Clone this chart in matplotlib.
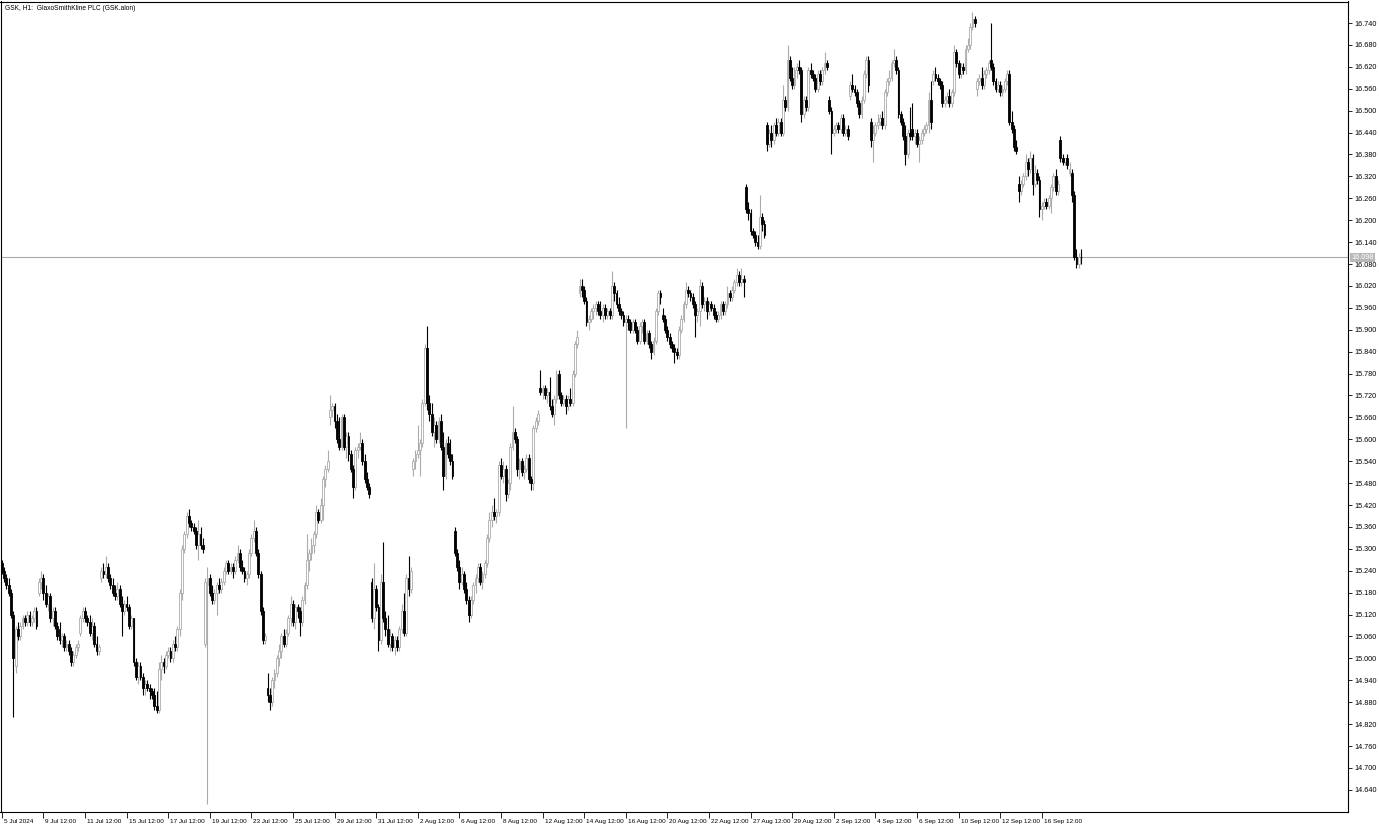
import numpy as np
import matplotlib
matplotlib.use("Agg")
import matplotlib.pyplot as plt
import matplotlib.transforms as mtransforms

# GSK H1 candles, 5 Jul - 18 Sep 2024, one row per trading day

title = "GSK, H1:  GlaxoSmithKline PLC (GSK.alon)"
last_price = 16.098

opens = [
    15.26, 15.24, 15.22, 15.20, 15.18, 15.12, 14.98,
    15.08, 15.06, 15.09, 15.11, 15.10, 15.12, 15.10, 15.11, 15.13,
    15.18, 15.21, 15.22, 15.18, 15.15, 15.17, 15.11, 15.13, 15.09,
    15.08, 15.05, 15.06, 15.03, 15.04, 15.02, 14.99, 15.01, 15.03,
    15.07, 15.11, 15.13, 15.11, 15.10, 15.07, 15.09, 15.04, 15.02,
    15.22, 15.24, 15.23, 15.25, 15.22, 15.20, 15.18, 15.17, 15.19,
    15.15, 15.13, 15.15, 15.14, 15.09, 15.11, 14.99, 14.95, 14.98,
    14.95, 14.92, 14.93, 14.92, 14.91, 14.90, 14.87, 14.86, 14.97,
    14.99, 14.98, 15.01, 15.02, 15.00, 15.04, 15.03, 15.08, 15.18,
    15.30, 15.34, 15.39, 15.37, 15.36, 15.35, 15.31, 15.34, 15.31,
    15.04, 15.20, 15.22, 15.18, 15.16, 15.18, 15.20, 15.19, 15.21,
    15.24, 15.26, 15.24, 15.25, 15.24, 15.27, 15.29, 15.25, 15.24,
    15.22, 15.23, 15.29, 15.33, 15.35, 15.29, 15.23, 15.13, 15.05,
    14.92, 14.90, 14.88, 14.94, 14.96, 15.00, 15.02, 15.06, 15.04,
    15.07, 15.11, 15.15, 15.10, 15.14, 15.13, 15.10, 15.16, 15.20,
    15.27, 15.29, 15.31, 15.34, 15.40, 15.38, 15.42, 15.49, 15.52,
    15.66, 15.68, 15.69, 15.65, 15.60, 15.58, 15.66, 15.58, 15.61,
    15.56, 15.52, 15.47, 15.57, 15.58, 15.59, 15.54, 15.49, 15.47,
    15.21, 15.11, 15.19, 15.14, 15.05, 15.21, 15.11, 15.08, 15.04,
    15.06, 15.03, 15.05, 15.03, 15.08, 15.13, 15.07, 15.22, 15.19,
    15.52, 15.54, 15.56, 15.57, 15.59, 15.70, 15.85, 15.70, 15.67,
    15.62, 15.64, 15.60, 15.65, 15.58, 15.50, 15.59, 15.56, 15.54,
    15.35, 15.29, 15.25, 15.21, 15.23, 15.19, 15.16, 15.12, 15.16,
    15.20, 15.22, 15.25, 15.21, 15.23, 15.26, 15.33, 15.38, 15.40,
    15.39, 15.40, 15.53, 15.50, 15.52, 15.45, 15.48, 15.58, 15.62,
    15.60, 15.52, 15.54, 15.51, 15.52, 15.55, 15.49, 15.48, 15.63,
    15.65, 15.74, 15.73, 15.74, 15.72, 15.73, 15.69, 15.67, 15.71,
    15.78, 15.72, 15.70, 15.71, 15.69, 15.71, 15.70, 15.78, 15.86,
    16.00, 16.02, 16.01, 15.98, 15.92, 15.93, 15.95, 15.96, 15.97,
    15.95, 15.94, 15.96, 15.94, 15.95, 15.94, 16.02, 16.00, 15.97,
    15.95, 15.94, 15.92, 15.93, 15.92, 15.90, 15.92, 15.90, 15.87,
    15.91, 15.92, 15.87, 15.89, 15.86, 15.84, 15.87, 15.95, 16.00,
    15.94, 15.93, 15.90, 15.88, 15.86, 15.85, 15.84, 15.83, 15.90,
    15.93, 15.97, 16.01, 16.00, 15.99, 15.97, 15.94, 15.95, 16.02,
    15.97, 15.98, 15.95, 15.97, 15.96, 15.94, 15.93, 15.94, 15.97,
    15.95, 15.97, 16.00, 15.99, 16.01, 16.03, 16.05, 16.03, 16.04,
    16.29, 16.23, 16.22, 16.17, 16.16, 16.14, 16.13, 16.21, 16.19,
    16.46, 16.41, 16.44, 16.42, 16.46, 16.44, 16.47, 16.44, 16.53,
    16.51, 16.64, 16.59, 16.57, 16.61, 16.62, 16.61, 16.49, 16.53,
    16.51, 16.61, 16.60, 16.59, 16.56, 16.60, 16.58, 16.61, 16.63,
    16.53, 16.50, 16.44, 16.45, 16.46, 16.45, 16.48, 16.44, 16.45,
    16.54, 16.57, 16.56, 16.55, 16.52, 16.49, 16.53, 16.60, 16.64,
    16.47, 16.42, 16.44, 16.46, 16.47, 16.48, 16.46, 16.55, 16.58,
    16.59, 16.63, 16.64, 16.61, 16.49, 16.47, 16.43, 16.38, 16.44,
    16.45, 16.43, 16.44, 16.41, 16.42, 16.44, 16.45, 16.46, 16.53,
    16.58, 16.60, 16.59, 16.58, 16.57, 16.52, 16.53, 16.54, 16.52,
    16.55, 16.66, 16.63, 16.60, 16.62, 16.61, 16.67, 16.68, 16.73,
    16.75, 16.56, 16.58, 16.59, 16.57, 16.60, 16.61, 16.64, 16.62,
    16.58, 16.56, 16.57, 16.55, 16.56, 16.58, 16.60, 16.47, 16.45,
    16.40, 16.30, 16.28, 16.30, 16.32, 16.36, 16.34, 16.37, 16.30,
    16.33, 16.31, 16.23, 16.24, 16.25, 16.24, 16.26, 16.29, 16.32,
    16.28, 16.42, 16.37, 16.36, 16.37, 16.33, 16.33, 16.27, 16.10,
    16.08, 16.10,
]

highs = [
    15.27, 15.25, 15.23, 15.22, 15.19, 15.13, 15.09,
    15.10, 15.10, 15.12, 15.12, 15.13, 15.13, 15.12, 15.14, 15.14,
    15.22, 15.24, 15.23, 15.20, 15.18, 15.18, 15.14, 15.14, 15.10,
    15.10, 15.07, 15.07, 15.05, 15.05, 15.03, 15.02, 15.04, 15.05,
    15.12, 15.14, 15.14, 15.12, 15.12, 15.11, 15.10, 15.06, 15.04,
    15.25, 15.26, 15.28, 15.26, 15.23, 15.22, 15.20, 15.21, 15.20,
    15.17, 15.16, 15.17, 15.15, 15.12, 15.11, 15.00, 14.99, 14.99,
    14.96, 14.94, 14.94, 14.93, 14.92, 14.92, 14.91, 14.99, 15.01,
    15.00, 15.02, 15.03, 15.03, 15.05, 15.06, 15.09, 15.19, 15.31,
    15.35, 15.40, 15.41, 15.38, 15.37, 15.36, 15.38, 15.36, 15.33,
    15.22, 15.25, 15.23, 15.20, 15.19, 15.21, 15.22, 15.22, 15.25,
    15.27, 15.27, 15.26, 15.26, 15.28, 15.31, 15.30, 15.27, 15.25,
    15.24, 15.30, 15.34, 15.38, 15.36, 15.30, 15.24, 15.14, 15.07,
    14.96, 14.92, 14.95, 14.97, 15.01, 15.04, 15.07, 15.08, 15.08,
    15.12, 15.17, 15.16, 15.15, 15.15, 15.14, 15.17, 15.21, 15.34,
    15.30, 15.33, 15.35, 15.42, 15.41, 15.44, 15.50, 15.53, 15.57,
    15.72, 15.70, 15.70, 15.67, 15.66, 15.67, 15.67, 15.62, 15.62,
    15.57, 15.53, 15.58, 15.59, 15.62, 15.60, 15.56, 15.51, 15.48,
    15.22, 15.26, 15.20, 15.15, 15.23, 15.32, 15.13, 15.12, 15.08,
    15.07, 15.06, 15.06, 15.09, 15.15, 15.18, 15.23, 15.28, 15.25,
    15.55, 15.57, 15.64, 15.60, 15.71, 15.86, 15.91, 15.72, 15.70,
    15.66, 15.65, 15.66, 15.67, 15.62, 15.60, 15.61, 15.60, 15.56,
    15.36, 15.30, 15.27, 15.25, 15.24, 15.21, 15.17, 15.17, 15.21,
    15.23, 15.26, 15.26, 15.24, 15.27, 15.34, 15.40, 15.42, 15.44,
    15.41, 15.54, 15.55, 15.54, 15.53, 15.49, 15.59, 15.69, 15.63,
    15.61, 15.55, 15.55, 15.53, 15.56, 15.56, 15.50, 15.64, 15.66,
    15.68, 15.79, 15.75, 15.75, 15.74, 15.77, 15.71, 15.72, 15.79,
    15.79, 15.73, 15.72, 15.72, 15.72, 15.74, 15.79, 15.87, 15.90,
    16.04, 16.04, 16.02, 15.99, 15.94, 15.96, 15.97, 15.98, 15.98,
    15.98, 15.97, 15.97, 15.96, 15.96, 16.06, 16.03, 16.01, 15.99,
    15.96, 15.95, 15.94, 15.94, 15.93, 15.93, 15.93, 15.91, 15.92,
    15.93, 15.93, 15.90, 15.90, 15.87, 15.88, 15.96, 16.01, 16.01,
    15.96, 15.94, 15.91, 15.89, 15.87, 15.86, 15.85, 15.91, 15.94,
    15.98, 16.03, 16.02, 16.01, 16.00, 15.98, 15.96, 16.04, 16.03,
    15.99, 15.99, 15.98, 15.98, 15.97, 15.95, 15.95, 15.98, 15.98,
    15.98, 16.02, 16.01, 16.02, 16.04, 16.07, 16.06, 16.07, 16.05,
    16.30, 16.25, 16.23, 16.18, 16.17, 16.16, 16.27, 16.22, 16.20,
    16.47, 16.45, 16.46, 16.47, 16.48, 16.48, 16.48, 16.57, 16.54,
    16.68, 16.65, 16.62, 16.62, 16.63, 16.64, 16.62, 16.54, 16.54,
    16.62, 16.63, 16.61, 16.60, 16.61, 16.61, 16.62, 16.66, 16.64,
    16.54, 16.51, 16.46, 16.47, 16.47, 16.49, 16.49, 16.46, 16.46,
    16.58, 16.60, 16.57, 16.56, 16.53, 16.54, 16.61, 16.65, 16.65,
    16.48, 16.46, 16.47, 16.49, 16.49, 16.50, 16.56, 16.59, 16.61,
    16.64, 16.67, 16.65, 16.62, 16.50, 16.48, 16.46, 16.45, 16.51,
    16.52, 16.45, 16.45, 16.43, 16.45, 16.46, 16.47, 16.55, 16.58,
    16.61, 16.62, 16.60, 16.59, 16.58, 16.54, 16.55, 16.56, 16.56,
    16.68, 16.67, 16.64, 16.63, 16.63, 16.68, 16.70, 16.74, 16.77,
    16.76, 16.59, 16.60, 16.62, 16.61, 16.62, 16.64, 16.74, 16.63,
    16.59, 16.58, 16.58, 16.57, 16.59, 16.61, 16.61, 16.50, 16.46,
    16.42, 16.32, 16.31, 16.33, 16.38, 16.37, 16.39, 16.38, 16.35,
    16.34, 16.32, 16.25, 16.26, 16.26, 16.27, 16.30, 16.33, 16.34,
    16.31, 16.43, 16.38, 16.37, 16.38, 16.36, 16.34, 16.28, 16.12,
    16.11, 16.12,
]

lows = [
    15.23, 15.21, 15.19, 15.17, 15.11, 14.84, 14.96,
    15.05, 15.05, 15.08, 15.09, 15.09, 15.09, 15.09, 15.10, 15.08,
    15.17, 15.19, 15.16, 15.14, 15.13, 15.10, 15.09, 15.08, 15.05,
    15.04, 15.03, 15.02, 15.02, 15.01, 14.98, 14.98, 15.00, 15.02,
    15.06, 15.10, 15.10, 15.09, 15.06, 15.05, 15.03, 15.01, 15.01,
    15.21, 15.22, 15.22, 15.21, 15.19, 15.17, 15.16, 15.16, 15.14,
    15.06, 15.12, 15.13, 15.08, 15.08, 14.98, 14.94, 14.93, 14.94,
    14.90, 14.90, 14.91, 14.89, 14.89, 14.86, 14.85, 14.85, 14.94,
    14.96, 14.97, 15.00, 14.99, 14.99, 15.02, 15.02, 15.06, 15.16,
    15.29, 15.33, 15.36, 15.35, 15.34, 15.30, 15.27, 15.30, 15.29,
    15.03, 14.60, 15.17, 15.15, 15.15, 15.12, 15.18, 15.18, 15.20,
    15.23, 15.23, 15.23, 15.22, 15.23, 15.26, 15.24, 15.23, 15.21,
    15.20, 15.22, 15.28, 15.32, 15.28, 15.22, 15.12, 15.04, 15.04,
    14.88, 14.86, 14.87, 14.92, 14.95, 14.98, 15.00, 15.03, 15.03,
    15.06, 15.09, 15.09, 15.08, 15.11, 15.06, 15.09, 15.15, 15.19,
    15.24, 15.27, 15.29, 15.33, 15.37, 15.37, 15.38, 15.47, 15.51,
    15.64, 15.66, 15.63, 15.59, 15.57, 15.57, 15.57, 15.55, 15.54,
    15.51, 15.44, 15.46, 15.55, 15.57, 15.53, 15.48, 15.46, 15.44,
    15.10, 15.08, 15.13, 15.02, 15.04, 15.10, 15.06, 15.03, 15.02,
    15.02, 15.01, 15.02, 15.02, 15.07, 15.06, 15.06, 15.17, 15.18,
    15.50, 15.52, 15.55, 15.50, 15.58, 15.69, 15.68, 15.65, 15.61,
    15.58, 15.59, 15.59, 15.57, 15.46, 15.49, 15.55, 15.53, 15.49,
    15.28, 15.24, 15.19, 15.20, 15.18, 15.15, 15.10, 15.11, 15.15,
    15.18, 15.21, 15.20, 15.19, 15.22, 15.25, 15.32, 15.36, 15.38,
    15.37, 15.39, 15.49, 15.48, 15.43, 15.44, 15.46, 15.57, 15.59,
    15.50, 15.49, 15.50, 15.49, 15.51, 15.48, 15.46, 15.46, 15.62,
    15.64, 15.72, 15.71, 15.71, 15.70, 15.68, 15.66, 15.64, 15.70,
    15.71, 15.69, 15.69, 15.67, 15.68, 15.69, 15.69, 15.77, 15.85,
    15.99, 15.99, 15.97, 15.91, 15.90, 15.92, 15.93, 15.94, 15.94,
    15.93, 15.92, 15.93, 15.93, 15.93, 15.93, 15.98, 15.96, 15.94,
    15.93, 15.91, 15.63, 15.90, 15.89, 15.89, 15.89, 15.86, 15.86,
    15.89, 15.86, 15.86, 15.85, 15.82, 15.83, 15.86, 15.94, 15.97,
    15.92, 15.89, 15.87, 15.85, 15.84, 15.81, 15.82, 15.82, 15.89,
    15.92, 15.96, 15.99, 15.98, 15.96, 15.88, 15.92, 15.91, 15.96,
    15.95, 15.93, 15.94, 15.95, 15.93, 15.92, 15.92, 15.93, 15.94,
    15.94, 15.96, 15.98, 15.98, 16.00, 16.02, 16.02, 16.02, 15.99,
    16.22, 16.20, 16.16, 16.15, 16.13, 16.12, 16.12, 16.17, 16.15,
    16.39, 16.40, 16.40, 16.41, 16.43, 16.43, 16.43, 16.43, 16.50,
    16.50, 16.58, 16.56, 16.56, 16.59, 16.60, 16.47, 16.48, 16.50,
    16.50, 16.59, 16.58, 16.55, 16.55, 16.57, 16.57, 16.60, 16.61,
    16.49, 16.38, 16.43, 16.44, 16.44, 16.44, 16.43, 16.43, 16.42,
    16.53, 16.55, 16.54, 16.51, 16.48, 16.48, 16.52, 16.59, 16.55,
    16.40, 16.36, 16.43, 16.45, 16.46, 16.45, 16.45, 16.54, 16.57,
    16.58, 16.62, 16.60, 16.48, 16.46, 16.42, 16.35, 16.37, 16.42,
    16.42, 16.41, 16.40, 16.36, 16.41, 16.43, 16.44, 16.44, 16.45,
    16.57, 16.58, 16.57, 16.56, 16.51, 16.51, 16.52, 16.51, 16.51,
    16.54, 16.62, 16.59, 16.59, 16.60, 16.60, 16.66, 16.67, 16.72,
    16.73, 16.54, 16.57, 16.56, 16.56, 16.59, 16.60, 16.61, 16.57,
    16.55, 16.55, 16.54, 16.54, 16.55, 16.57, 16.46, 16.44, 16.39,
    16.38, 16.25, 16.27, 16.29, 16.31, 16.32, 16.33, 16.27, 16.29,
    16.30, 16.21, 16.20, 16.23, 16.23, 16.23, 16.22, 16.28, 16.27,
    16.27, 16.36, 16.35, 16.35, 16.34, 16.32, 16.25, 16.09, 16.07,
    16.07, 16.08,
]

closes = [
    15.24, 15.22, 15.20, 15.18, 15.12, 15.00, 15.08,
    15.06, 15.09, 15.11, 15.10, 15.12, 15.10, 15.11, 15.13, 15.09,
    15.21, 15.22, 15.18, 15.15, 15.17, 15.11, 15.13, 15.09, 15.06,
    15.05, 15.06, 15.03, 15.04, 15.02, 14.99, 15.01, 15.03, 15.04,
    15.11, 15.13, 15.11, 15.10, 15.07, 15.09, 15.04, 15.02, 15.03,
    15.24, 15.23, 15.25, 15.22, 15.20, 15.18, 15.17, 15.19, 15.15,
    15.13, 15.15, 15.14, 15.09, 15.11, 14.99, 14.95, 14.98, 14.95,
    14.92, 14.93, 14.92, 14.91, 14.90, 14.87, 14.86, 14.97, 14.99,
    14.98, 15.01, 15.02, 15.00, 15.04, 15.03, 15.08, 15.18, 15.30,
    15.34, 15.39, 15.37, 15.36, 15.35, 15.31, 15.34, 15.31, 15.30,
    15.21, 15.22, 15.18, 15.16, 15.18, 15.20, 15.19, 15.21, 15.24,
    15.26, 15.24, 15.25, 15.24, 15.27, 15.29, 15.25, 15.24, 15.22,
    15.23, 15.29, 15.33, 15.35, 15.29, 15.23, 15.13, 15.05, 15.06,
    14.90, 14.88, 14.94, 14.96, 15.00, 15.02, 15.06, 15.04, 15.07,
    15.11, 15.15, 15.10, 15.14, 15.13, 15.10, 15.16, 15.20, 15.27,
    15.29, 15.31, 15.34, 15.40, 15.38, 15.42, 15.49, 15.52, 15.54,
    15.68, 15.69, 15.65, 15.60, 15.58, 15.66, 15.58, 15.61, 15.56,
    15.52, 15.47, 15.57, 15.58, 15.59, 15.54, 15.49, 15.47, 15.45,
    15.11, 15.19, 15.14, 15.05, 15.21, 15.11, 15.08, 15.04, 15.06,
    15.03, 15.05, 15.03, 15.08, 15.13, 15.07, 15.22, 15.19, 15.24,
    15.54, 15.56, 15.57, 15.59, 15.70, 15.85, 15.70, 15.67, 15.62,
    15.64, 15.60, 15.65, 15.58, 15.50, 15.59, 15.56, 15.54, 15.50,
    15.29, 15.25, 15.21, 15.23, 15.19, 15.16, 15.12, 15.16, 15.20,
    15.22, 15.25, 15.21, 15.23, 15.26, 15.33, 15.38, 15.40, 15.39,
    15.40, 15.53, 15.50, 15.52, 15.45, 15.48, 15.58, 15.62, 15.60,
    15.52, 15.54, 15.51, 15.52, 15.55, 15.49, 15.48, 15.63, 15.65,
    15.67, 15.73, 15.74, 15.72, 15.73, 15.69, 15.67, 15.71, 15.78,
    15.72, 15.70, 15.71, 15.69, 15.71, 15.70, 15.78, 15.86, 15.88,
    16.02, 16.01, 15.98, 15.92, 15.93, 15.95, 15.96, 15.97, 15.95,
    15.94, 15.96, 15.94, 15.95, 15.94, 16.02, 16.00, 15.97, 15.95,
    15.94, 15.92, 15.93, 15.92, 15.90, 15.92, 15.90, 15.87, 15.91,
    15.92, 15.87, 15.89, 15.86, 15.84, 15.87, 15.95, 16.00, 15.99,
    15.93, 15.90, 15.88, 15.86, 15.85, 15.84, 15.83, 15.90, 15.93,
    15.97, 16.01, 16.00, 15.99, 15.97, 15.94, 15.95, 16.02, 15.97,
    15.98, 15.95, 15.97, 15.96, 15.94, 15.93, 15.94, 15.97, 15.95,
    15.97, 16.00, 15.99, 16.01, 16.03, 16.05, 16.03, 16.04, 16.03,
    16.23, 16.22, 16.17, 16.16, 16.14, 16.13, 16.21, 16.19, 16.16,
    16.41, 16.44, 16.42, 16.46, 16.44, 16.47, 16.44, 16.53, 16.51,
    16.64, 16.59, 16.57, 16.61, 16.62, 16.61, 16.49, 16.53, 16.51,
    16.61, 16.60, 16.59, 16.56, 16.60, 16.58, 16.61, 16.63, 16.62,
    16.50, 16.44, 16.45, 16.46, 16.45, 16.48, 16.44, 16.45, 16.43,
    16.57, 16.56, 16.55, 16.52, 16.49, 16.53, 16.60, 16.64, 16.57,
    16.42, 16.44, 16.46, 16.47, 16.48, 16.46, 16.55, 16.58, 16.59,
    16.63, 16.64, 16.61, 16.49, 16.47, 16.43, 16.38, 16.44, 16.43,
    16.43, 16.44, 16.41, 16.42, 16.44, 16.45, 16.46, 16.53, 16.47,
    16.60, 16.59, 16.58, 16.57, 16.52, 16.53, 16.54, 16.52, 16.55,
    16.66, 16.63, 16.60, 16.62, 16.61, 16.67, 16.68, 16.73, 16.75,
    16.74, 16.58, 16.59, 16.57, 16.60, 16.61, 16.63, 16.62, 16.58,
    16.56, 16.57, 16.55, 16.56, 16.58, 16.60, 16.47, 16.45, 16.40,
    16.39, 16.28, 16.30, 16.32, 16.36, 16.34, 16.37, 16.30, 16.33,
    16.31, 16.23, 16.24, 16.25, 16.24, 16.26, 16.29, 16.32, 16.28,
    16.30, 16.37, 16.36, 16.37, 16.35, 16.34, 16.27, 16.10, 16.08,
    16.10, 16.098,
]

# axis labels: every second trading day at 12:00 (bar index = 9 * day)
x_labels = ["5 Jul 2024", "9 Jul 12:00", "11 Jul 12:00", "15 Jul 12:00", "17 Jul 12:00",
            "19 Jul 12:00", "23 Jul 12:00", "25 Jul 12:00", "29 Jul 12:00", "31 Jul 12:00",
            "2 Aug 12:00", "6 Aug 12:00", "8 Aug 12:00", "12 Aug 12:00", "14 Aug 12:00",
            "16 Aug 12:00", "20 Aug 12:00", "22 Aug 12:00", "27 Aug 12:00", "29 Aug 12:00",
            "2 Sep 12:00", "4 Sep 12:00", "6 Sep 12:00", "10 Sep 12:00", "12 Sep 12:00",
            "16 Sep 12:00"]
x_label_days = list(range(0, 51, 2))
y_ticks = [round(14.64 + 0.06 * k, 3) for k in range(36)]

plt.rcParams['font.family'] = ['Liberation Sans', 'DejaVu Sans']

o = np.array(opens)
h = np.array(highs)
l = np.array(lows)
c = np.array(closes)
x = np.arange(len(c))
up = c >= o

bull_edge = "#ababab"

fig = plt.figure(figsize=(13.79, 8.27), dpi=100)
ax = fig.add_axes([0.5 / 1379, 15 / 827, 1347.5 / 1379, 810.5 / 827])

ax.vlines(x[up], l[up], h[up], colors=bull_edge, linewidth=0.8, zorder=2)
ax.vlines(x[~up], l[~up], h[~up], colors="black", linewidth=0.8, zorder=2)
body_lo = np.minimum(o, c)
body_h = np.maximum(np.abs(c - o), 0.002)
ax.bar(x[up], body_h[up], bottom=body_lo[up], width=0.8, color="white",
       edgecolor=bull_edge, linewidth=0.6, zorder=3)
ax.bar(x[~up], body_h[~up], bottom=body_lo[~up], width=0.8, color="black",
       edgecolor="black", linewidth=0.6, zorder=3)

# bid line
ax.axhline(last_price, color="#a8a8a8", linewidth=0.8, zorder=1)

ax.set_xlim(-0.55, 582.5)
ax.set_ylim(14.5794, 16.7989)

ax.yaxis.tick_right()
ax.set_yticks(y_ticks)
ax.set_yticklabels(["%.3f" % v for v in y_ticks])
ax.tick_params(axis="y", direction="out", length=3, width=0.6, pad=1.5, labelsize=5.2)

ax.set_xticks([9 * d for d in x_label_days])
ax.set_xticklabels(x_labels, ha="left")
ax.tick_params(axis="x", direction="out", length=4, width=0.6, pad=1, labelsize=4.6)
shift = mtransforms.ScaledTranslation(2 / 100, 0, fig.dpi_scale_trans)
for lab in ax.get_xticklabels():
    lab.set_transform(lab.get_transform() + shift)

for s in ax.spines.values():
    s.set_linewidth(0.8)
    s.set_color("black")

ax.text(0.003, 0.996, title, transform=ax.transAxes, ha="left", va="top", fontsize=4.8)

tr = mtransforms.blended_transform_factory(ax.transAxes, ax.transData)
ax.text(1.0025, last_price, "%.3f" % last_price, transform=tr, ha="left", va="center",
        fontsize=5.2, color="white",
        bbox=dict(boxstyle="square,pad=0.15", fc="#b8b8b8", ec="none"))

fig.savefig("out.png", dpi=100)
